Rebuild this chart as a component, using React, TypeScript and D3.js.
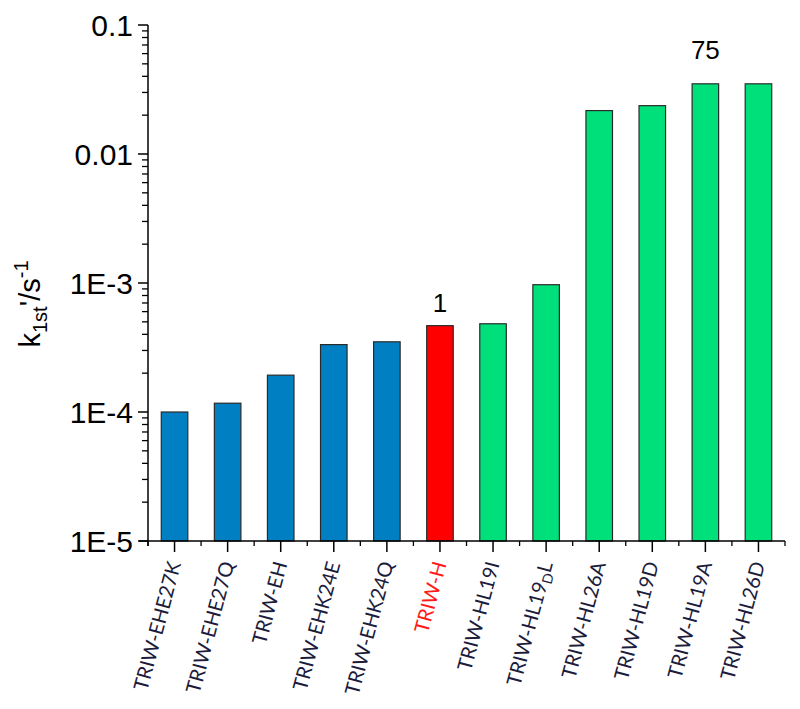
import React from "react";
import * as d3 from "d3";

const categories = [
  "TRIW-EHE27K",
  "TRIW-EHE27Q",
  "TRIW-EH",
  "TRIW-EHK24E",
  "TRIW-EHK24Q",
  "TRIW-H",
  "TRIW-HL19I",
  "TRIW-HL19DL",
  "TRIW-HL26A",
  "TRIW-HL19D",
  "TRIW-HL19A",
  "TRIW-HL26D",
];
const values = [
  1.0e-4, 1.17e-4, 1.93e-4, 3.33e-4, 3.5e-4, 4.67e-4, 4.83e-4, 9.7e-4, 2.17e-2,
  2.37e-2, 3.5e-2, 3.5e-2,
];
const groups = ["E", "E", "E", "E", "E", "H", "L", "L", "L", "L", "L", "L"];
const groupColors: Record<string, string> = { E: "#0080C2", H: "#FF0000", L: "#00E07A" };
const majorTicks = [1e-5, 1e-4, 1e-3, 1e-2, 1e-1];
const majorLabels = ["1E-5", "1E-4", "1E-3", "0.01", "0.1"];
const annotationIndex = [5, 10];
const annotationText = ["1", "75"];

const layout = { annotationGap: [14, 25] };

const W = 800;
const H = 709;
const left = 148;
const right = 785;
const top = 25;
const bottom = 541;

export default function App() {
  const x = d3
    .scaleBand<string>()
    .domain(categories)
    .range([left, right])
    .paddingInner(0.5)
    .paddingOuter(0.25);
  const y = d3.scaleLog().domain([1e-5, 1e-1]).range([bottom, top]);
  const step = x.step();

  const minor: number[] = [];
  for (let e = -5; e < -1; e++) {
    for (let m = 2; m <= 9; m++) minor.push(m * Math.pow(10, e));
  }

  const font = "'Liberation Sans', Arial, sans-serif";
  const labelFont = "Lato, 'Open Sans', sans-serif";

  return (
    <svg
      width={W}
      height={H}
      style={{ position: "absolute", left: 0, top: 0, background: "#fff" }}
    >
      {categories.map((c, i) => (
        <rect
          key={c}
          x={x(c)!}
          y={y(values[i])}
          width={x.bandwidth()}
          height={bottom - y(values[i])}
          fill={groupColors[groups[i]]}
          stroke="#2a2a2a"
          strokeWidth={1.2}
        />
      ))}
      {annotationIndex.map((idx, k) => (
        <text
          key={annotationText[k]}
          x={x(categories[idx])! + x.bandwidth() / 2}
          y={y(values[idx]) - layout.annotationGap[k]}
          textAnchor="middle"
          fontFamily={font}
          fontSize={26}
          fill="#000"
        >
          {annotationText[k]}
        </text>
      ))}
      <line x1={left} x2={left} y1={top} y2={bottom + 5} stroke="#000" strokeWidth={1.5} />
      {majorTicks.map((t, i) => (
        <g key={t}>
          <line x1={left - 10} x2={left} y1={y(t)} y2={y(t)} stroke="#000" strokeWidth={1.5} />
          <text
            x={left - 15}
            y={y(t)}
            dy="0.36em"
            textAnchor="end"
            fontFamily={font}
            fontSize={30}
            fill="#000"
          >
            {majorLabels[i]}
          </text>
        </g>
      ))}
      {minor.map((t) => (
        <line key={t} x1={left - 6} x2={left} y1={y(t)} y2={y(t)} stroke="#000" strokeWidth={1.3} />
      ))}
      <text
        transform={`translate(40, 304) rotate(-90)`}
        textAnchor="middle"
        fontFamily={font}
        fontSize={29}
        fill="#000"
      >
        k
        <tspan fontSize={20} dy={7}>1st</tspan>
        <tspan dy={-7}>'/s</tspan>
        <tspan fontSize={20} dy={-12}>-1</tspan>
      </text>
      <line x1={left - 9} x2={right} y1={bottom} y2={bottom} stroke="#000" strokeWidth={1.5} />
      {categories.map((c, i) => (
        <line
          key={"m" + c}
          x1={left + step * i}
          x2={left + step * i}
          y1={bottom}
          y2={bottom + 5}
          stroke="#000"
          strokeWidth={1.3}
        />
      ))}
      <line x1={right} x2={right} y1={bottom} y2={bottom + 5} stroke="#000" strokeWidth={1.3} />
      {categories.map((c) => (
        <line
          key={"M" + c}
          x1={x(c)! + x.bandwidth() / 2}
          x2={x(c)! + x.bandwidth() / 2}
          y1={bottom}
          y2={bottom + 11}
          stroke="#000"
          strokeWidth={1.5}
        />
      ))}
      {categories.map((c, i) => {
        const cx = x(c)! + x.bandwidth() / 2;
        const color = groups[i] === "H" ? "#FF1A1A" : "#1C1C3C";
        const isSub = c === "TRIW-HL19DL";
        return (
          <text
            key={"l" + c}
            transform={`translate(${cx}, 562) rotate(-75)`}
            textAnchor="end"
            dy="0.35em"
            fontFamily={labelFont}
            fontSize={20}
            fill={color}
          >
            {isSub ? (
              <>
                TRIW-HL19
                <tspan fontSize={14} dy={4}>D</tspan>
                <tspan dy={-4}>L</tspan>
              </>
            ) : (
              c
            )}
          </text>
        );
      })}
    </svg>
  );
}
